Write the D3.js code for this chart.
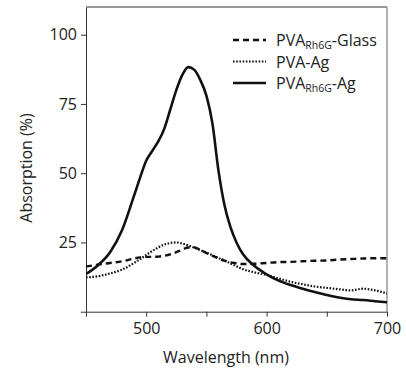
<!DOCTYPE html>
<html>
<head>
<meta charset="utf-8">
<script src="https://cdn.jsdelivr.net/npm/d3@7"></script>
<style>
  body { margin: 0; background: #fff; }
  svg { display: block; font-family: "Open Sans", sans-serif; }
</style>
</head>
<body>
<script>
// wavelength grid (nm)
const wavelengths = [450,460,470,480,490,495,500,505,510,515,520,525,530,535,540,545,550,555,560,565,570,575,580,590,600,610,620,630,640,650,660,670,680,690,700];

// absorption (%) per sample
const glass = [16.3,17,17.6,18.2,19.2,19.6,19.8,19.8,19.9,20.2,20.7,21.5,22.4,23.2,23.2,22.3,21.2,20.2,19.2,18.4,17.8,17.5,17.2,17.3,17.6,17.9,18,18.2,18.4,18.5,18.8,19,19.2,19.3,19.3];
const pvaAg = [12.4,12.8,13.8,15.2,17.6,19,20.5,21.9,23.2,24.2,24.8,25,24.6,23.9,23.1,22.2,21.3,20.4,19.4,18.5,17.4,16.4,15.4,14.2,13.3,12,10.8,9.9,9.1,8.6,8.1,7.7,8.3,7.7,6.6];
const rh6gAg = [13.6,16.8,21.5,29.5,42,48.5,54.5,58,61.5,66,73,80,85.5,88.3,87.3,83.6,78,68,51,38.5,30.5,25,21,16.5,13.5,11.2,9.6,8.3,7.1,6,5.1,4.5,4.2,3.8,3.4];

const xTicks = [450,500,550,600,650,700];
const xLabels = [500,600,700];
const yTicks = [0,25,50,75,100];
const yLabels = [25,50,75,100];

const series = [
  { base: "PVA", sub: "Rh6G", rest: "-Glass", values: glass, dash: "6,4", width: 2.4 },
  { base: "PVA", sub: "", rest: "-Ag", values: pvaAg, dash: "1.6,1.6", width: 2.2 },
  { base: "PVA", sub: "Rh6G", rest: "-Ag", values: rh6gAg, dash: null, width: 2.6 }
];

const W = 406, H = 371;
const mLeft = 86, mRight = 387, mTop = 7, mBottom = 311.7;

const svg = d3.select("body").append("svg")
  .attr("width", W)
  .attr("height", H);

const x = d3.scaleLinear().domain([450, 700]).range([mLeft, mRight]);
const y = d3.scaleLinear().domain([0, 110]).range([mBottom, mTop]);

// frame: top dark, right gray
svg.append("line")
  .attr("x1", mLeft).attr("x2", mRight)
  .attr("y1", mTop).attr("y2", mTop)
  .attr("stroke", "#333").attr("stroke-width", 1);
svg.append("line")
  .attr("x1", mRight).attr("x2", mRight)
  .attr("y1", mTop).attr("y2", mBottom)
  .attr("stroke", "#999").attr("stroke-width", 1.5);

// axes
const xAxis = d3.axisBottom(x)
  .tickValues(xTicks)
  .tickSize(5)
  .tickSizeOuter(0)
  .tickPadding(6)
  .tickFormat(d => xLabels.includes(d) ? d : "");

const yAxis = d3.axisLeft(y)
  .tickValues(yTicks)
  .tickSize(5)
  .tickSizeOuter(0)
  .tickPadding(4)
  .tickFormat(d => yLabels.includes(d) ? d : "");

const gx = svg.append("g")
  .attr("transform", "translate(0," + mBottom + ")")
  .call(xAxis);
const gy = svg.append("g")
  .attr("transform", "translate(" + mLeft + ",0)")
  .call(yAxis);

[gx, gy].forEach(g => {
  g.select(".domain").attr("stroke", "#333");
  g.selectAll(".tick line").attr("stroke", "#333");
  g.selectAll(".tick text")
    .attr("font-family", "'Open Sans', sans-serif")
    .attr("font-size", 16)
    .attr("fill", "#222");
});

// axis titles
svg.append("text")
  .attr("x", 226)
  .attr("y", 363)
  .attr("text-anchor", "middle")
  .attr("font-size", 16)
  .attr("fill", "#222")
  .text("Wavelength (nm)");

svg.append("text")
  .attr("transform", "translate(32,168) rotate(-90)")
  .attr("text-anchor", "middle")
  .attr("font-size", 16)
  .attr("fill", "#222")
  .text("Absorption (%)");

// curves
svg.append("clipPath").attr("id", "plot")
  .append("rect")
  .attr("x", mLeft).attr("y", mTop)
  .attr("width", mRight - mLeft).attr("height", mBottom - mTop);

const line = d3.line()
  .x((d, i) => x(wavelengths[i]))
  .y(d => y(d))
  .curve(d3.curveMonotoneX);

svg.append("g")
  .attr("clip-path", "url(#plot)")
  .selectAll("path")
  .data(series)
  .join("path")
  .attr("d", d => line(d.values))
  .attr("fill", "none")
  .attr("stroke", "#111")
  .attr("stroke-width", d => d.width)
  .attr("stroke-dasharray", d => d.dash);

// legend
const legend = svg.append("g");
const rowY = [46, 67.5, 89];
series.forEach((s, i) => {
  legend.append("line")
    .attr("x1", 233).attr("x2", 266)
    .attr("y1", rowY[i] - 6).attr("y2", rowY[i] - 6)
    .attr("stroke", "#111")
    .attr("stroke-width", s.width)
    .attr("stroke-dasharray", s.dash);
  const t = legend.append("text")
    .attr("x", 276)
    .attr("y", rowY[i])
    .attr("font-size", 16)
    .attr("fill", "#222");
  t.append("tspan").text(s.base);
  if (s.sub) {
    t.append("tspan").attr("font-size", 10.5).attr("dy", 3).text(s.sub);
    t.append("tspan").attr("dy", -3).text(s.rest);
  } else {
    t.append("tspan").text(s.rest);
  }
});
</script>
</body>
</html>
